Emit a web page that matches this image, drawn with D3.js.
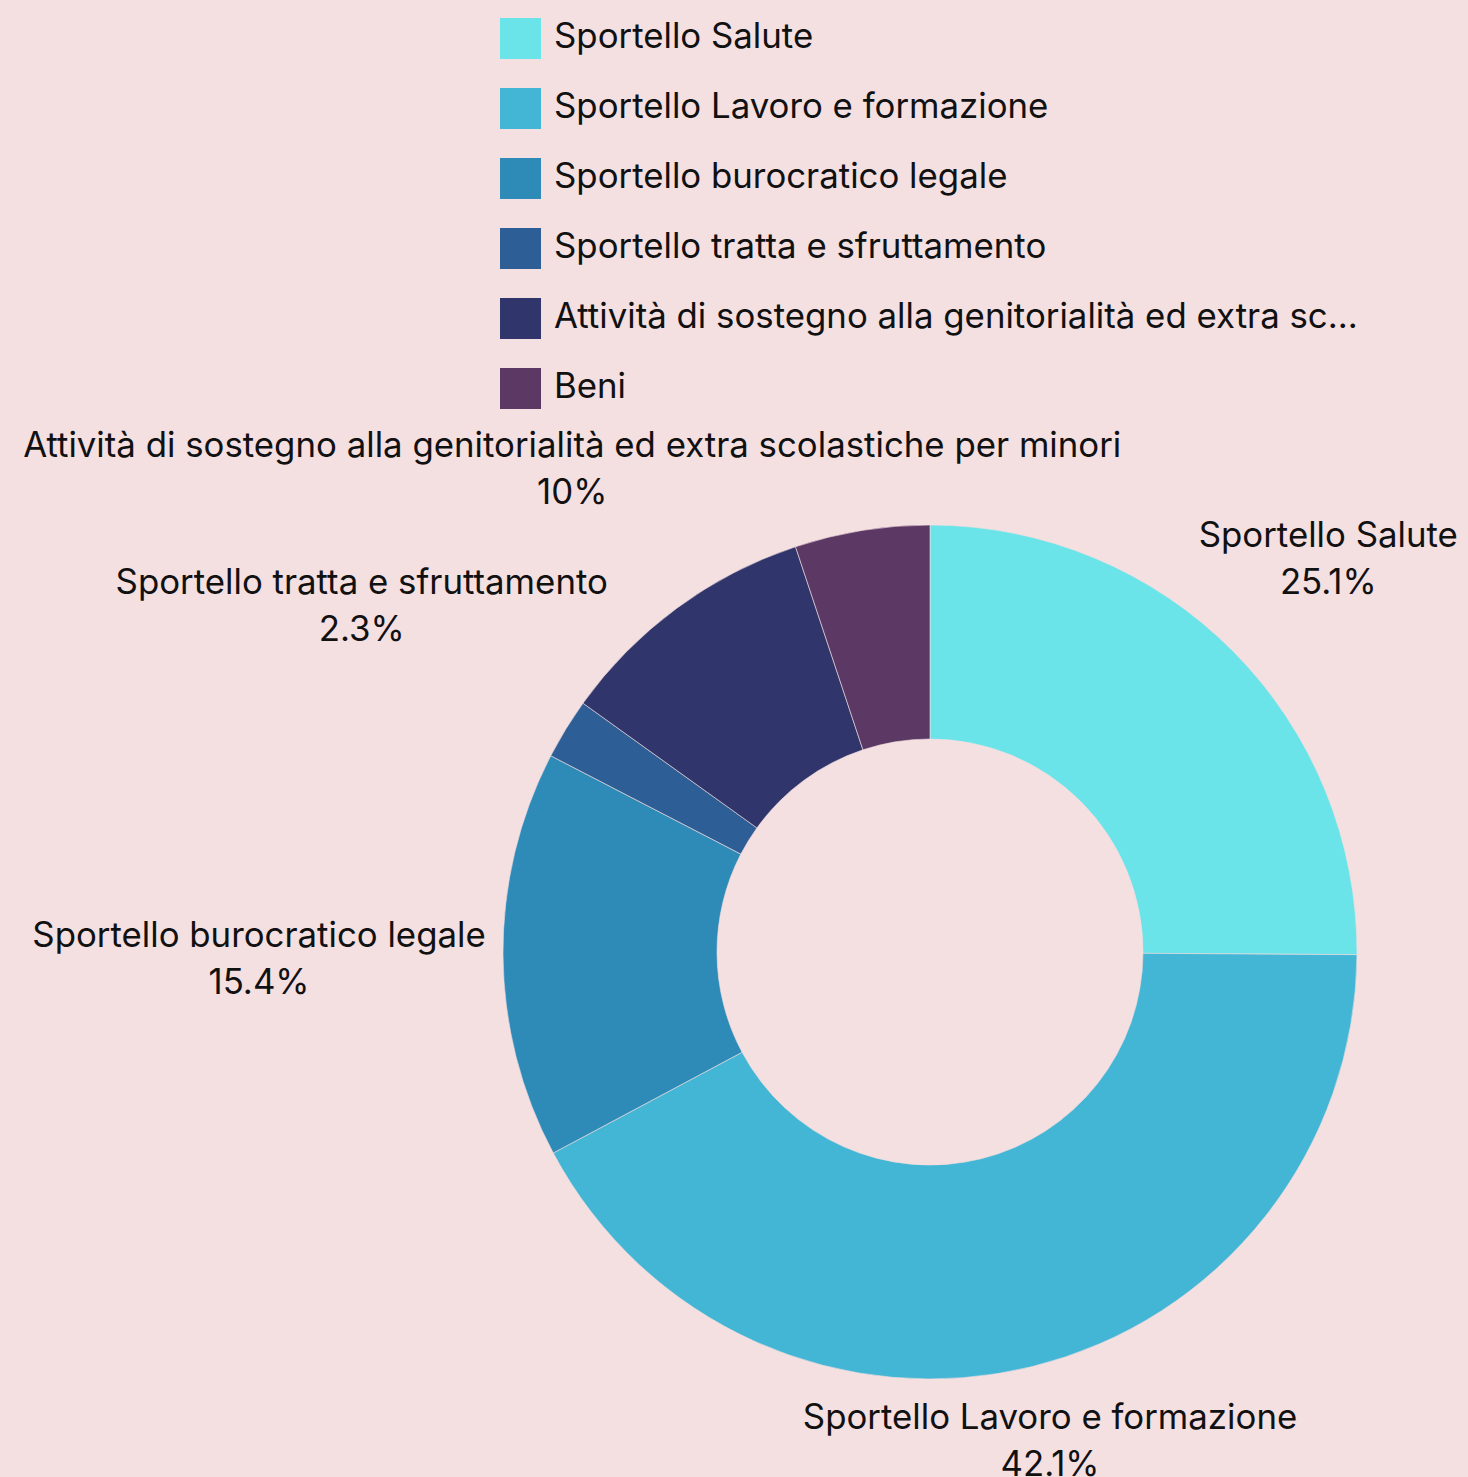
<!DOCTYPE html>
<html>
<head>
<meta charset="utf-8">
<script src="https://cdn.jsdelivr.net/npm/d3@7"></script>
<style>
  html, body { margin: 0; padding: 0; background: #f4dfe1; }
  svg { display: block; }
  text { font-family: Inter, Roboto, sans-serif; fill: #111; }
</style>
</head>
<body>
<script>
	// dati
	var categories = [
		'Sportello Salute',
		'Sportello Lavoro e formazione',
		'Sportello burocratico legale',
		'Sportello tratta e sfruttamento',
		'Attività di sostegno alla genitorialità ed extra scolastiche per minori',
		'Beni'
	]
	var values = [25.1, 42.1, 15.4, 2.3, 10, 5.1]
	var valueLabels = ['25.1%', '42.1%', '15.4%', '2.3%', '10%', '']
	var colors = ['#6ae4e8', '#42b6d4', '#2e8bb8', '#2e5e96', '#30356b', '#5c3864']

	var width = 1468, height = 1477
	var fontSize = 34.8

	var svg = d3.select('body').append('svg')
		.attr('width', width)
		.attr('height', height)

	svg.append('rect')
		.attr('width', width)
		.attr('height', height)
		.attr('fill', '#f4dfe1')

	// legenda
	var legend = svg.append('g').attr('transform', 'translate(500,18)')
	var legendMaxW = 815

	var rows = legend.selectAll('.row')
		.data(categories)
		.enter()
		.append('g')
		.attr('class', 'row')
		.attr('transform', (d, i) => 'translate(0,' + i * 70 + ')')

	rows.append('rect')
		.attr('width', 41)
		.attr('height', 41)
		.attr('fill', (d, i) => colors[i])

	rows.append('text')
		.attr('x', 54)
		.attr('y', 18)
		.attr('dy', '0.35em')
		.style('font-size', fontSize + 'px')
		.text(d => d)
		.each(function(d) {
			// tronca il testo troppo lungo
			var el = d3.select(this)
			if (this.getComputedTextLength() > legendMaxW) {
				var s = d
				while (s.length > 0) {
					s = s.slice(0, -1)
					el.text(s.trimEnd() + '...')
					if (this.getComputedTextLength() <= legendMaxW) break
				}
			}
		})

	// ciambella
	var cx = 930, cy = 952
	var outerR = 427, innerR = 213

	var pie = d3.pie().sort(null).value(d => d)
	var arcs = pie(values)
	var arc = d3.arc().innerRadius(innerR).outerRadius(outerR)

	var g = svg.append('g').attr('transform', 'translate(' + cx + ',' + cy + ')')

	g.selectAll('path')
		.data(arcs)
		.enter()
		.append('path')
		.attr('d', arc)
		.attr('fill', (d, i) => colors[i])
		.attr('stroke', '#f4dfe1')
		.attr('stroke-width', 0.6)

	// etichette: il riquadro del testo tocca un cerchio di raggio labelR
	var labelR = 444
	var lineGap = 47

	var labelsG = g.selectAll('.lbl')
		.data(arcs.filter((d, i) => valueLabels[i] !== ''))
		.enter()
		.append('g')
		.attr('class', 'lbl')

	labelsG.each(function(d) {
		var i = d.index
		var el = d3.select(this)
		var t1 = el.append('text')
			.attr('text-anchor', 'middle')
			.attr('y', -lineGap / 2)
			.attr('dy', '0.35em')
			.style('font-size', fontSize + 'px')
			.text(categories[i])
		var t2 = el.append('text')
			.attr('text-anchor', 'middle')
			.attr('y', lineGap / 2)
			.attr('dy', '0.35em')
			.style('font-size', fontSize + 'px')
			.text(valueLabels[i])
		var hw = Math.max(t1.node().getComputedTextLength(), t2.node().getComputedTextLength()) / 2
		var hh = (lineGap + 37) / 2
		var a = (d.startAngle + d.endAngle) / 2
		var ux = Math.sin(a), uy = -Math.cos(a)
		var t = 0
		while (t < 2000) {
			var bx = t * ux, by = t * uy
			var dx = Math.max(Math.abs(bx) - hw, 0)
			var dy = Math.max(Math.abs(by) - hh, 0)
			if (Math.sqrt(dx * dx + dy * dy) >= labelR) break
			t += 0.5
		}
		el.attr('transform', 'translate(' + (t * ux) + ',' + (t * uy + 2) + ')')
	})
</script>
</body>
</html>
